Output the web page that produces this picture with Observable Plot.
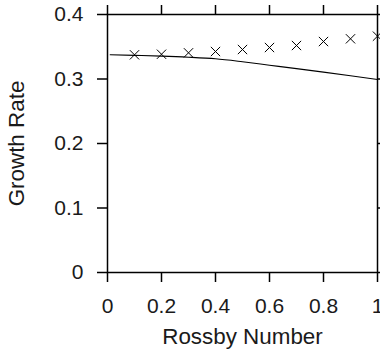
<!DOCTYPE html>
<html>
<head>
<meta charset="utf-8">
<script src="https://cdn.jsdelivr.net/npm/d3@7"></script>
<script src="https://cdn.jsdelivr.net/npm/@observablehq/plot@0.6"></script>
<style>
  html, body { margin: 0; padding: 0; background: white; }
  #chart svg { display: block; }
</style>
</head>
<body>
<div id="chart"></div>
<script>
// Tick values and labels
const xTicks = [0, 0.2, 0.4, 0.6, 0.8, 1];
const xTickLabels = ["0", "0.2", "0.4", "0.6", "0.8", "1"];
const yTicks = [0, 0.1, 0.2, 0.3, 0.4];
const yTickLabels = ["0", "0.1", "0.2", "0.3", "0.4"];

// Axis titles
const xTitle = "Rossby Number";
const yTitle = "Growth Rate";

// Solid curve (theory)
const curveRossby = [0.01, 0.1, 0.2, 0.3, 0.4, 0.5, 0.6, 0.7, 0.8, 0.9, 1.0];
const curveGrowth = [0.3375, 0.3366, 0.3355, 0.3338, 0.3313, 0.3267, 0.3214, 0.3161, 0.3106, 0.3050, 0.2992];

// Crosses (numerical)
const pointRossby = [0.1, 0.2, 0.3, 0.4, 0.5, 0.6, 0.7, 0.8, 0.9, 1.0];
const pointGrowth = [0.3375, 0.3384, 0.3406, 0.3426, 0.3457, 0.3488, 0.3519, 0.3581, 0.3623, 0.3664];

const curve = curveRossby.map((x, i) => ({x, y: curveGrowth[i]}));
const points = pointRossby.map((x, i) => ({x, y: pointGrowth[i]}));

const font = "Liberation Sans, Arial, Helvetica, sans-serif";
const fs = 21;
const tfs = 22.4;
const ink = "#1a1a1a";

const chart = Plot.plot({
  width: 380,
  height: 354,
  marginLeft: 107,
  marginRight: 3,
  marginTop: 14,
  marginBottom: 82,
  style: {fontFamily: font, fontSize: fs + "px", background: "white", color: ink},
  x: {domain: [0, 1]},
  y: {domain: [0, 0.4]},
  marks: [
    Plot.axisX({ticks: xTicks, tickSize: 10, tickPadding: 16, strokeWidth: 1.5, stroke: "black",
      fontSize: fs, label: null, tickFormat: d => xTickLabels[xTicks.indexOf(d)]}),
    Plot.axisX({anchor: "top", ticks: xTicks, tickSize: 10, strokeWidth: 1.5, stroke: "black",
      label: null, tickFormat: () => ""}),
    Plot.axisY({ticks: yTicks, tickSize: 10, tickPadding: 14, strokeWidth: 1.5, stroke: "black",
      fontSize: fs, label: null, tickFormat: d => yTickLabels[yTicks.indexOf(d)]}),
    Plot.axisY({anchor: "right", ticks: yTicks, tickSize: 10, strokeWidth: 1.5, stroke: "black",
      label: null, tickFormat: () => ""}),
    Plot.frame({stroke: "black", strokeWidth: 1.5}),
    Plot.line(curve, {x: "x", y: "y", stroke: "black", strokeWidth: 1.1, curve: "monotone-x"}),
    Plot.dot(points, {x: "x", y: "y", symbol: "times", r: 4.3, stroke: "black", strokeWidth: 1}),
    Plot.text([xTitle], {frameAnchor: "bottom", lineAnchor: "middle", textAnchor: "middle",
      dy: 64, text: d => d, fontSize: tfs, fill: ink}),
    Plot.text([yTitle], {frameAnchor: "left", lineAnchor: "middle", textAnchor: "middle",
      dx: -90.5, rotate: -90, text: d => d, fontSize: tfs, fill: ink})
  ]
});

document.getElementById("chart").appendChild(chart);
</script>
</body>
</html>
